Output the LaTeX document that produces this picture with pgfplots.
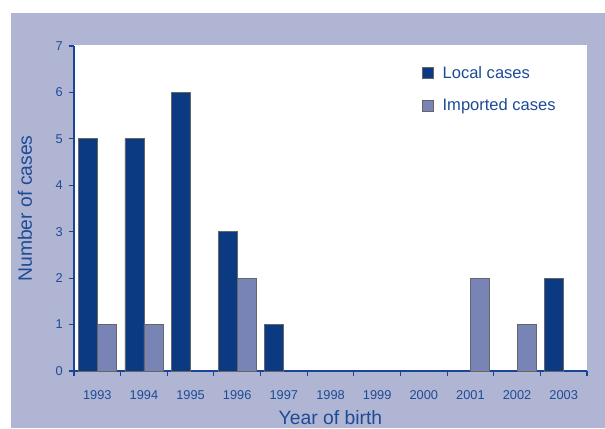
\documentclass[border=0pt]{standalone}
\usepackage{pgfplots}
\pgfplotsset{compat=1.18}
\usepackage{fontspec}
\setmainfont{Liberation Sans}
\definecolor{lav}{HTML}{B0B5D3}
\definecolor{darkb}{HTML}{0B3A82}
\definecolor{lightb}{HTML}{7884B6}
\definecolor{txtb}{HTML}{1E4B96}
\definecolor{axb}{HTML}{1A4494}
\begin{document}
\begin{tikzpicture}[x=0.75pt,y=0.75pt]
\useasboundingbox (-74,-57) rectangle (531,371);
\fill[white] (-74,-57) rectangle (531,371);
\fill[lav] (-63,-57) rectangle (531,358);
\fill[white] (0,0) rectangle (513,326);
\begin{axis}[
  at={(0,0)}, anchor=south west, scale only axis,
  width=384.75pt, height=243.75pt,
  ybar=0pt, bar width=14.25pt,
  xmin=-0.5, xmax=10.5, ymin=0, ymax=7,
  axis x line*=bottom, axis y line*=left,
  axis line style={color=axb, line width=0.9pt},
  xtick={0,...,10},
  xticklabels={1993,1994,1995,1996,1997,1998,1999,2000,2001,2002,2003},
  minor xtick={-0.5,0.5,...,10.5},
  major x tick style={draw=none},
  minor x tick style={color=axb, line width=0.8pt},
  minor tick length=4pt,
  ytick={0,...,7},
  y tick style={color=axb, line width=0.8pt},
  major tick length=4pt,
  tick align=outside,
  tick label style={font=\fontsize{9.6}{11}\selectfont, text=txtb},
  /pgf/number format/assume math mode=true,
  xticklabel style={yshift=-7pt},
  yticklabel style={xshift=-1pt},
  xlabel={Year of birth},
  ylabel={Number of cases},
  label style={font=\fontsize{14.5}{16}\selectfont, text=txtb},
  xlabel style={at={(axis description cs:0.5,0)}, anchor=center, yshift=-35pt},
  ylabel style={at={(axis description cs:0,0.5)}, anchor=center, yshift=36.75pt},
  legend style={at={(axis description cs:0.677,0.947)}, anchor=north west,
    draw=none, fill=none, font=\fontsize{12.4}{14}\selectfont, text=txtb,
    row sep=10pt, inner sep=0pt,
    /tikz/every odd column/.append style={column sep=5pt}},
  legend cell align=left,
  legend image code/.code={\draw[#1,draw=black!60,line width=0.6pt] (0pt,-4.1pt) rectangle (8.2pt,4.1pt);},
]
\addplot[fill=darkb, draw=black!60, line width=0.6pt] coordinates {(0,5) (1,5) (2,6) (3,3) (4,1) (10,2)};
\addplot[fill=lightb, draw=black!60, line width=0.6pt] coordinates {(0,1) (1,1) (3,2) (8,2) (9,1)};
\legend{Local cases, Imported cases}
\end{axis}
\end{tikzpicture}
\end{document}
